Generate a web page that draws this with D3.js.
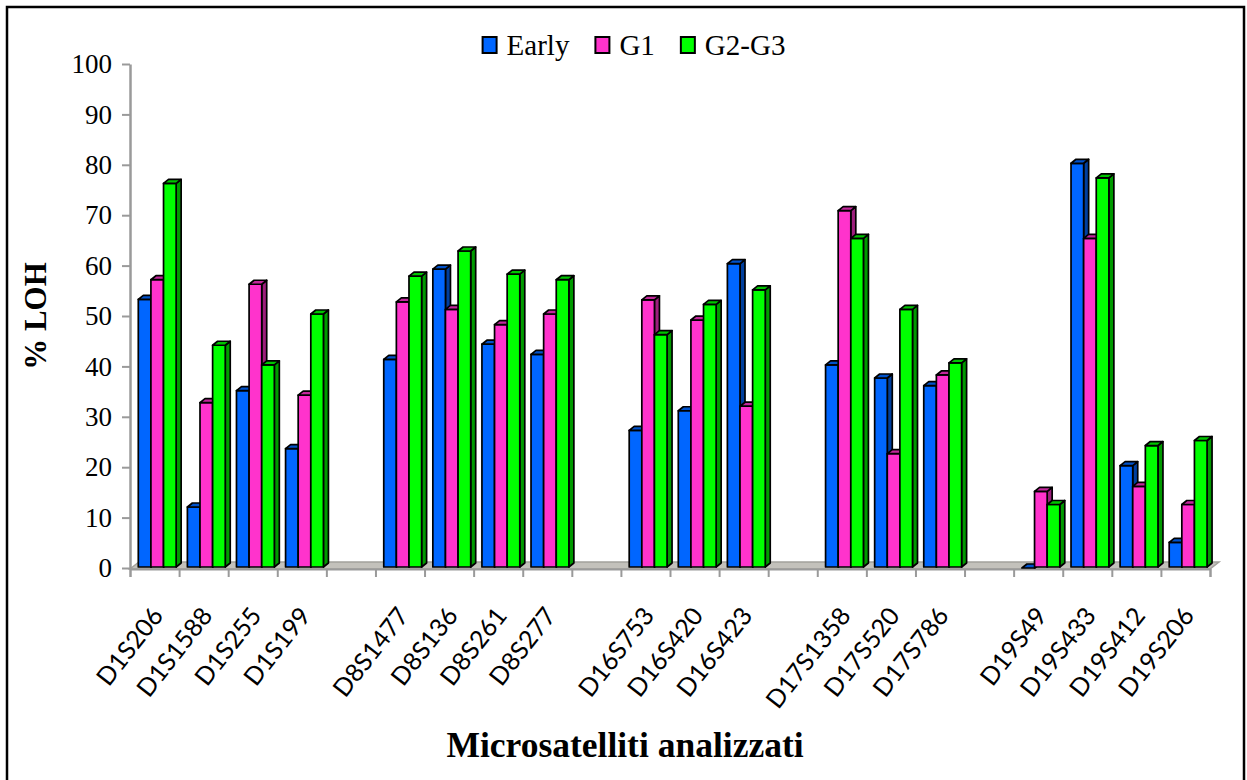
<!DOCTYPE html>
<html>
<head>
<meta charset="utf-8">
<script src="https://cdn.jsdelivr.net/npm/d3@7"></script>
<style>
  html, body { margin: 0; padding: 0; background: #fff; }
  svg { display: block; }
</style>
</head>
<body>
<svg id="chart" width="1247" height="780"></svg>
<script>
// Marker names along the x axis; empty strings are spacer slots between chromosomes
const categories = ["D1S206", "D1S1588", "D1S255", "D1S199", "",
  "D8S1477", "D8S136", "D8S261", "D8S277", "",
  "D16S753", "D16S420", "D16S423", "",
  "D17S1358", "D17S520", "D17S786", "",
  "D19S49", "D19S433", "D19S412", "D19S206"];

// % LOH per marker for each tumour grade (null = spacer slot)
const early = [53.3, 12.1, 35.2, 23.7, null, 41.4, 59.3, 44.4, 42.4, null, 27.3, 31.2, 60.4, null, 40.3, 37.7, 36.2, null, 0, 80.3, 20.3, 5.1];
const g1    = [57.2, 32.8, 56.3, 34.3, null, 52.8, 51.3, 48.3, 50.4, null, 53.2, 49.2, 32.1, null, 70.9, 22.7, 38.3, null, 15.2, 65.4, 16.2, 12.6];
const g2g3  = [76.3, 44.2, 40.3, 50.4, null, 57.9, 62.9, 58.3, 57.2, null, 46.3, 52.3, 55.2, null, 65.4, 51.3, 40.7, null, 12.6, 77.4, 24.3, 25.3];

const seriesNames = ["Early", "G1", "G2-G3"];
const yTicks = [0, 10, 20, 30, 40, 50, 60, 70, 80, 90, 100];

const series = [
  { name: seriesNames[0], values: early, front: "#0066ff", side: "#003f9e", top: "#0052cc" },
  { name: seriesNames[1], values: g1,    front: "#ff33cc", side: "#9c1f7c", top: "#c4279c" },
  { name: seriesNames[2], values: g2g3,  front: "#00ff00", side: "#009a00", top: "#00c400" }
];

const svg = d3.select("#chart");

// frame
svg.append("rect")
  .attr("x", 7).attr("y", 7).attr("width", 1237).attr("height", 800)
  .attr("fill", "none").attr("stroke", "#000").attr("stroke-width", 2.5);

const plotLeft = 130, plotRight = 1210, plotTop = 64, plotBottom = 568;

const x = d3.scaleBand()
  .domain(d3.range(categories.length))
  .range([plotLeft, plotRight])
  .paddingInner(0).paddingOuter(0);

const xEdge = d3.scaleLinear().domain([0, categories.length]).range([plotLeft, plotRight]);

const y = d3.scaleLinear().domain([0, 100]).range([plotBottom, plotTop]);

// floor of the 3D plot area
const floorDX = 9, floorDY = -7;
svg.append("path")
  .attr("d", `M${plotLeft},${plotBottom + 1} L${plotRight},${plotBottom + 1} L${plotRight + floorDX},${plotBottom + 1 + floorDY} L${plotLeft + floorDX},${plotBottom + 1 + floorDY} Z`)
  .attr("fill", "#c3c1bb").attr("stroke", "#a3a19c").attr("stroke-width", 1.5);

// y axis
const yAxis = d3.axisLeft(y).tickValues(yTicks).tickSize(8).tickSizeOuter(0).tickPadding(10);
const gy = svg.append("g").attr("transform", `translate(${plotLeft},0)`).call(yAxis);
gy.select(".domain").attr("stroke", "#9a9a9a").attr("stroke-width", 2.5);
gy.selectAll(".tick line").attr("stroke", "#9a9a9a").attr("stroke-width", 2);
gy.selectAll(".tick text")
  .attr("font-family", "'Liberation Serif', 'Times New Roman', serif")
  .attr("font-size", 27).attr("fill", "#000");

// x axis tick marks at slot boundaries
const xAxis = d3.axisBottom(xEdge).tickValues(d3.range(categories.length + 1)).tickSize(8).tickFormat("");
const gx = svg.append("g").attr("transform", `translate(0,${plotBottom + 1})`).call(xAxis);
gx.select(".domain").attr("stroke", "#9a9a9a").attr("stroke-width", 2);
gx.selectAll(".tick line").attr("stroke", "#9a9a9a").attr("stroke-width", 2);

// 3D columns
const bw = x.bandwidth();
const barOffset = 0.169 * bw, barW = 0.257 * bw;
const dx = 5, dy = -4;

categories.forEach((cat, i) => {
  series.forEach((s, k) => {
    const v = s.values[i];
    if (v === null) return;
    const x0 = x(i) + barOffset + k * barW;
    const x1 = x0 + barW;
    const yt = y(v), yb = y(0) - 1;
    const g = svg.append("g")
      .attr("stroke", "#000").attr("stroke-width", 1.7).attr("stroke-linejoin", "round");
    // side face
    g.append("path")
      .attr("d", `M${x1},${yt} L${x1 + dx},${yt + dy} L${x1 + dx},${yb + dy} L${x1},${yb} Z`)
      .attr("fill", s.side);
    // front face
    if (yb - yt > 0) {
      g.append("rect")
        .attr("x", x0).attr("y", yt).attr("width", barW).attr("height", yb - yt)
        .attr("fill", s.front);
    }
    // top face
    g.append("path")
      .attr("d", `M${x0},${yt} L${x0 + dx},${yt + dy} L${x1 + dx},${yt + dy} L${x1},${yt} Z`)
      .attr("fill", s.top);
  });
});

// category labels
svg.append("g").selectAll("text")
  .data(categories.map((c, i) => ({ c, i })).filter(d => d.c !== ""))
  .join("text")
  .attr("transform", d => `translate(${x(d.i) + bw / 2 + 10},${616}) rotate(-52)`)
  .attr("text-anchor", "end")
  .attr("font-family", "Lato, 'Open Sans', sans-serif")
  .attr("font-size", 25)
  .attr("fill", "#000")
  .text(d => d.c);

// axis titles
svg.append("text")
  .attr("transform", `translate(46,${316}) rotate(-90)`)
  .attr("text-anchor", "middle")
  .attr("font-family", "'Liberation Serif', 'Times New Roman', serif")
  .attr("font-weight", "bold").attr("font-size", 31)
  .text("% LOH");

svg.append("text")
  .attr("x", 625).attr("y", 757)
  .attr("text-anchor", "middle")
  .attr("font-family", "'Liberation Serif', 'Times New Roman', serif")
  .attr("font-weight", "bold").attr("font-size", 35.5)
  .text("Microsatelliti analizzati");

// legend
const legend = svg.append("g");
let lx = 0;
series.forEach(s => {
  const item = legend.append("g").attr("transform", `translate(${lx},0)`);
  item.append("rect")
    .attr("x", 0).attr("y", 37).attr("width", 14).attr("height", 16)
    .attr("fill", s.front).attr("stroke", "#000").attr("stroke-width", 2);
  const t = item.append("text")
    .attr("x", 24).attr("y", 55)
    .attr("font-family", "'Liberation Serif', 'Times New Roman', serif")
    .attr("font-size", 29).attr("fill", "#000")
    .text(s.name);
  lx += 24 + t.node().getComputedTextLength() + 26;
});
const legendWidth = lx - 26;
legend.attr("transform", `translate(${634 - legendWidth / 2},0)`);
</script>
</body>
</html>
